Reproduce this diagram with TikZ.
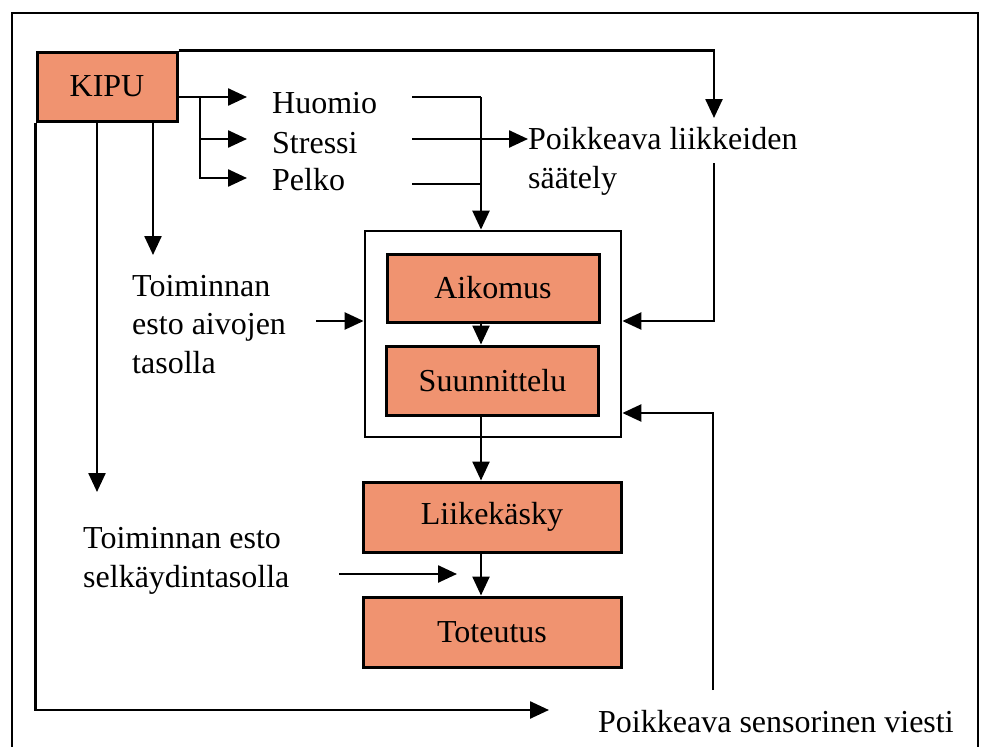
\documentclass[tikz,border=0pt]{standalone}
\usepackage{fontspec}
\setmainfont{Liberation Serif}
\usepackage{tikz}
\usetikzlibrary{arrows.meta, positioning, calc}
\definecolor{boxfill}{RGB}{240,147,112}

\begin{document}
\begin{tikzpicture}[
  x=1pt, y=-1pt,
  blk/.style={rectangle, draw=black, line width=3pt, fill=boxfill,
              minimum width=212pt, minimum height=68pt, inner sep=0pt,
              font=\fontsize{32}{38.5}\selectfont},
  wide/.style={blk, minimum width=258pt, minimum height=70pt},
  ctlbox/.style={rectangle, draw=black, line width=2.8pt,
                 minimum width=256pt, minimum height=206pt},
  lbl/.style={inner sep=0pt, anchor=base west, align=left,
              font=\fontsize{32}{38.5}\selectfont},
  ln/.style={line width=2.5pt},
  ar/.style={ln, -{Triangle[length=19pt, width=17pt]}}
]
  \useasboundingbox (0,0) rectangle (986,747);
  \draw[line width=2.3pt] (12,747) -- (12,13) -- (978,13) -- (978,747);

  % boxes
  \node[blk, minimum width=140pt, minimum height=69pt] (kipu) at (107,86.5) {KIPU};
  \node[ctlbox] (ctl) at (493,334) {};
  \node[blk] (aikomus) at (493,288) {Aikomus};
  \node[blk, minimum height=69pt] (suunn) at (492.5,380.5) {Suunnittelu};
  \node[wide] (liike) at (492,517) {Liikekäsky};
  \node[wide] (toteutus) at (492,632) {Toteutus};

  % texts (base = last line)
  \node[lbl] (huomio)  at (272,113) {Huomio};
  \node[lbl] (stressi) at (272,153) {Stressi};
  \node[lbl] (pelko)   at (272,190) {Pelko};
  \node[lbl] (poik)    at (528,188) {Poikkeava liikkeiden\\säätely};
  \node[lbl] (estoA)   at (132,373) {Toiminnan\\esto aivojen\\tasolla};
  \node[lbl] (estoB)   at (83,587)  {Toiminnan esto\\selkäydintasolla};
  \node[lbl] (sens)    at (598,732) {Poikkeava sensorinen viesti};

  % points
  \coordinate (kb) at (200,97);
  \coordinate (hq) at (247,97);
  \coordinate (sq) at (247,139);
  \coordinate (pq) at (247,178);
  \coordinate (hr) at (412,97);
  \coordinate (sr) at (412,139);
  \coordinate (pr) at (412,184);
  \coordinate (jn) at (481,97);
  \coordinate (pk) at (714,118);
  \coordinate (ps) at (714,163);
  \coordinate (sv) at (713,690);
  \coordinate (ea) at (153,255);
  \coordinate (es) at (97,492);
  \coordinate (sk) at (549,710);
  \coordinate (ia) at (316,321);
  \coordinate (ib) at (339,574);
  \coordinate (ibt) at (457,574);

  % kipu outputs
  \draw[ar] (kipu.east |- hq) -- (hq);
  \draw[ar] (kb) |- (sq);
  \draw[ar] (kb) |- (pq);
  \draw[ln] (hr) -- (jn);
  \draw[ln] (pr) -- (pr -| jn);
  \draw[ar] (sr) -- (poik.west |- sr);
  \draw[ar] (jn) -- (jn |- ctl.north);
  \draw[ar] (kipu.north east) -| (pk);
  \draw[ar] (ps) |- (ctl.east |- 0,321);
  \draw[ar] (sv) |- (ctl.east |- 0,413);
  \draw[ar] (kipu.south -| ea) -- (ea);
  \draw[ar] (kipu.south -| es) -- (es);
  \draw[ar] (kipu.south west) |- (sk);

  % inhibition
  \draw[ar] (ia) -- (ctl.west |- ia);
  \draw[ar] (ib) -- (ibt);

  % main flow
  \draw[ar] (aikomus.south -| jn) -- (suunn.north -| jn);
  \draw[ar] (suunn.south -| jn) -- (liike.north -| jn);
  \draw[ar] (liike.south -| jn) -- (toteutus.north -| jn);
\end{tikzpicture}
\end{document}
